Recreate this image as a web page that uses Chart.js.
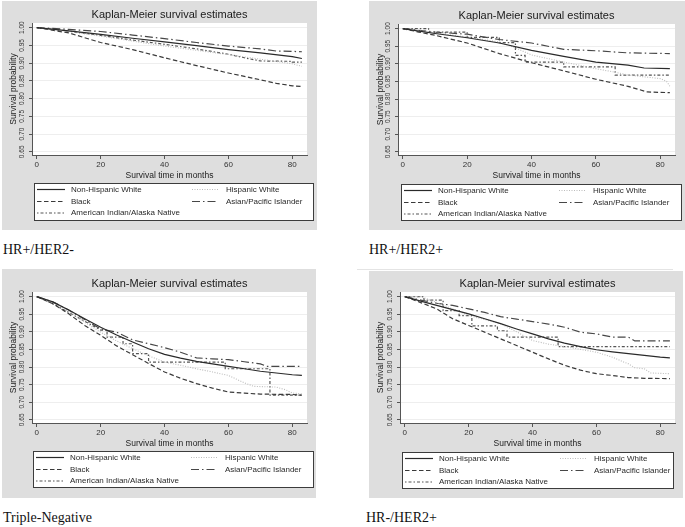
<!DOCTYPE html>
<html><head><meta charset="utf-8">
<script src="https://cdn.jsdelivr.net/npm/chart.js@4.4.0/dist/chart.umd.min.js"></script>
<style>
body{margin:0;background:#fff;width:685px;height:527px;overflow:hidden;position:relative;font-family:"Liberation Sans",Arial,sans-serif}
.panel{position:absolute}
.panel canvas{display:block}
.cap{position:absolute;font-family:"Liberation Serif","Times New Roman",serif;font-size:14px;line-height:16px;color:#111;white-space:nowrap}
.rule{position:absolute;height:1px;background:#e4e4e4}
</style></head><body>
<div class="rule" style="left:357px;top:269px;width:316px"></div>
<div class="panel" style="left:2px;top:1px"><canvas id="c1" width="315" height="229"></canvas></div>
<div class="panel" style="left:369px;top:1px"><canvas id="c2" width="316" height="229"></canvas></div>
<div class="panel" style="left:2px;top:269px"><canvas id="c3" width="314" height="229"></canvas></div>
<div class="panel" style="left:369px;top:271px"><canvas id="c4" width="314" height="227"></canvas></div>
<div class="cap" style="left:3px;top:242px">HR+/HER2-</div>
<div class="cap" style="left:369px;top:242px">HR+/HER2+</div>
<div class="cap" style="left:3px;top:510px">Triple-Negative</div>
<div class="cap" style="left:366px;top:510px">HR-/HER2+</div>
<script>
// ---- labels ----
const groups = ['Non-Hispanic White','Hispanic White','Black','Asian/Pacific Islander','American Indian/Alaska Native'];
const xTicks = [0,20,40,60,80];
const yTicks = [0.65,0.70,0.75,0.80,0.85,0.90,0.95,1.00];
const chartTitle = 'Kaplan-Meier survival estimates';
const xTitle = 'Survival time in months';
const yTitle = 'Survival probability';

// ---- HR+/HER2- : [month, survival] ----
const hrpHer2n_nhw   = [[0,1],[10,.991],[20,.981],[30,.970],[40,.960],[50,.949],[60,.938],[70,.929],[80,.918],[83,.913]];
const hrpHer2n_hisp  = [[0,1],[10,.989],[20,.976],[30,.962],[40,.948],[50,.936],[60,.924],[70,.911],[80,.898],[83,.891]];
const hrpHer2n_black = [[0,1],[10,.985],[20,.958],[30,.938],[40,.915],[50,.893],[60,.872],[70,.853],[75,.843],[80,.836],[83,.834]];
const hrpHer2n_asian = [[0,1],[10,.995],[20,.989],[30,.979],[40,.969],[50,.958],[60,.948],[70,.940],[75,.934],[80,.933],[83,.932]];
const hrpHer2n_aian  = [[0,1],[10,.990],[20,.978],[30,.965],[40,.953],[50,.940],[60,.925],[65,.915],[70,.906],[80,.905],[80,.903],[83,.903]];

// ---- HR+/HER2+ ----
const hrpHer2p_nhw   = [[0,1],[5,.993],[10,.986],[20,.974],[30,.959],[40,.938],[50,.921],[60,.905],[70,.896],[75,.888],[83,.886]];
const hrpHer2p_hisp  = [[0,1],[10,.988],[20,.976],[30,.962],[35,.945],[40,.925],[50,.905],[60,.886],[66,.876],[70,.868],[80,.858],[82,.850],[83,.836]];
const hrpHer2p_black = [[0,1],[5,.990],[10,.981],[20,.959],[30,.929],[40,.903],[50,.880],[60,.856],[70,.836],[76,.820],[83,.818]];
const hrpHer2p_asian = [[0,1],[10,.990],[20,.984],[30,.969],[40,.959],[50,.941],[60,.937],[70,.931],[83,.929]];
const hrpHer2p_aian  = [[0,1],[8,1],[8,.990],[20,.990],[20,.975],[30,.975],[30,.960],[35,.960],[35,.924],[38,.924],[38,.905],[50,.905],[50,.891],[66,.891],[66,.868],[83,.868]];

// ---- Triple-Negative ----
const tn_nhw   = [[0,1],[5,.985],[10,.962],[15,.937],[20,.913],[25,.891],[30,.871],[35,.852],[40,.836],[45,.825],[50,.816],[55,.809],[60,.802],[65,.795],[70,.788],[75,.783],[80,.778],[83,.776]];
const tn_hisp  = [[0,1],[5,.983],[10,.958],[15,.927],[20,.899],[25,.874],[30,.852],[35,.832],[40,.814],[45,.805],[50,.795],[55,.786],[60,.776],[65,.755],[68,.745],[75,.743],[78,.735],[80,.726],[83,.724]];
const tn_black = [[0,1],[5,.980],[10,.951],[15,.918],[20,.890],[25,.860],[30,.835],[35,.810],[40,.786],[45,.768],[50,.753],[55,.740],[60,.729],[65,.726],[70,.723],[80,.722],[83,.720]];
const tn_asian = [[0,1],[5,.985],[10,.962],[15,.935],[20,.908],[25,.899],[30,.877],[35,.866],[40,.855],[45,.842],[50,.826],[55,.823],[60,.821],[65,.815],[70,.809],[72,.802],[83,.802]];
const tn_aian  = [[0,1],[5,.980],[10,.955],[15,.930],[20,.905],[22,.905],[22,.885],[27,.885],[27,.866],[30,.866],[30,.838],[35,.838],[35,.814],[59,.814],[59,.795],[73,.795],[73,.720],[83,.720]];

// ---- HR-/HER2+ ----
const hrnHer2p_nhw   = [[0,1],[5,.987],[10,.975],[15,.963],[20,.951],[25,.937],[30,.923],[35,.908],[40,.894],[45,.880],[50,.868],[55,.858],[60,.849],[65,.843],[70,.838],[75,.833],[80,.828],[83,.826]];
const hrnHer2p_hisp  = [[0,1],[5,1],[10,.983],[15,.965],[20,.946],[25,.935],[30,.923],[35,.900],[40,.875],[45,.865],[50,.858],[55,.850],[60,.842],[65,.828],[68,.816],[70,.809],[72,.798],[75,.795],[77,.783],[83,.781]];
const hrnHer2p_black = [[0,1],[5,.983],[10,.965],[15,.937],[20,.918],[25,.899],[30,.880],[35,.861],[40,.842],[45,.823],[50,.805],[55,.791],[60,.781],[65,.776],[70,.770],[75,.768],[83,.767]];
const hrnHer2p_asian = [[0,1],[5,.990],[10,.981],[15,.975],[20,.965],[25,.955],[30,.943],[35,.936],[40,.929],[45,.922],[50,.913],[55,.899],[60,.894],[65,.885],[70,.885],[72,.874],[83,.874]];
const hrnHer2p_aian  = [[0,1],[6,1],[6,.990],[12,.990],[12,.960],[17,.960],[17,.946],[21,.946],[21,.917],[29,.917],[29,.903],[32,.903],[32,.885],[48,.885],[48,.858],[83,.858]];

// ---- styles (order = groups) ----
const styles = [
  {color:'#2a2a2a', dash:[], width:1.2},
  {color:'#bcbcbc', dash:[1,1.5], width:1.1},
  {color:'#3a3a3a', dash:[4.5,2.5], width:1.2},
  {color:'#474747', dash:[8,3,1.5,3], width:1.2},
  {color:'#555555', dash:[1.5,2,3,2], width:1.2}
];
const FONT = 'Liberation Sans, Arial, sans-serif';

const bgPlugin = {
  id:'bg',
  beforeDraw(chart){
    const {ctx, chartArea:a, width, height} = chart;
    ctx.save();
    ctx.fillStyle = '#dedede';
    ctx.fillRect(0,0,width,height);
    ctx.fillStyle = '#ffffff';
    ctx.fillRect(a.left, a.top, a.right-a.left, a.bottom-a.top);
    ctx.restore();
  }
};
const legendPlugin = {
  id:'kmLegend',
  afterDraw(chart, args, opts){
    const b = opts.box; if(!b) return;
    const ctx = chart.ctx;
    ctx.save();
    ctx.fillStyle = '#fff';
    ctx.fillRect(b.x, b.y, b.w, b.h);
    ctx.strokeStyle = '#3c3c3c'; ctx.lineWidth = 1; ctx.setLineDash([]);
    ctx.strokeRect(b.x+0.5, b.y+0.5, b.w, b.h);
    const rowY = [6, 18, 29.5];
    const sampleX = [[3,31],[158,184]];
    const textX = [37, 192];
    chart.data.datasets.forEach((ds,i)=>{
      const col = i%2, row = Math.floor(i/2);
      const y = b.y + rowY[row] + 0.5;
      ctx.beginPath();
      ctx.setLineDash(ds.borderDash||[]);
      ctx.strokeStyle = ds.borderColor; ctx.lineWidth = ds.borderWidth;
      ctx.moveTo(b.x+sampleX[col][0], y); ctx.lineTo(b.x+sampleX[col][1], y);
      ctx.stroke();
      ctx.setLineDash([]);
      ctx.fillStyle = '#2a2a2a';
      ctx.font = '8px ' + FONT;
      ctx.textBaseline = 'middle'; ctx.textAlign = 'left';
      ctx.fillText(ds.label, b.x+textX[col], y);
    });
    ctx.restore();
  }
};

function makePanel(id, series, g){
  const canvas = document.getElementById(id);
  const W = canvas.width, H = canvas.height;
  const xAxisH = 27;
  new Chart(canvas, {
    type:'line',
    data:{ datasets: series.map((s,i)=>({
      label: groups[i],
      data: s.map(p=>({x:p[0], y:p[1]})),
      borderColor: styles[i].color,
      borderDash: styles[i].dash,
      borderWidth: styles[i].width,
      pointRadius: 0, fill:false, tension:0
    }))},
    options:{
      responsive:false, animation:false, devicePixelRatio:1,
      parsing:false, normalized:true,
      layout:{ padding:{ left:0, top:0, right: W - g.right, bottom: H - g.bottom - xAxisH } },
      plugins:{
        legend:{display:false},
        tooltip:{enabled:false},
        title:{ display:true, text: chartTitle, fullSize:false, color:'#1a1a1a',
          font:{family:FONT, size:11, weight:'normal'},
          padding:{top: g.top - 14.2, bottom:1} },
        kmLegend:{ box: g.legend }
      },
      scales:{
        x:{ type:'linear', min:-1.5, max:84.6,
          afterBuildTicks: s => { s.ticks = xTicks.map(v=>({value:v})); },
          afterFit: s => { s.height = xAxisH; },
          grid:{ display:true, drawOnChartArea:false, drawTicks:true, tickLength:4, tickColor:'#555', tickWidth:1 },
          border:{ display:true, color:'#555', width:1 },
          ticks:{ padding:1, color:'#333', font:{family:FONT, size:8}, maxRotation:0, minRotation:0 },
          title:{ display:true, text:xTitle, color:'#222', font:{family:FONT, size:8.5}, padding:{top:0, bottom:1} }
        },
        y:{ type:'linear', min:0.641, max:1.013,
          afterBuildTicks: s => { s.ticks = yTicks.map(v=>({value:v})); },
          afterFit: s => { s.width = g.left; },
          grid:{ display:true, color:'#eeeeee', drawTicks:true, tickLength:3, tickColor:'#555', tickWidth:1 },
          border:{ display:true, color:'#555', width:1 },
          ticks:{ padding:0, color:'#333', font:{family:FONT, size:6.5}, minRotation:90, maxRotation:90, crossAlign:'center',
            callback: v => Number(v).toFixed(2) },
          title:{ display:true, text:yTitle, color:'#222', font:{family:FONT, size:8.5}, padding:{top:7, bottom:0} }
        }
      }
    },
    plugins:[bgPlugin, legendPlugin]
  });
}

makePanel('c1', [hrpHer2n_nhw, hrpHer2n_hisp, hrpHer2n_black, hrpHer2n_asian, hrpHer2n_aian],
  {left:30, right:305, top:22, bottom:154, legend:{x:32, y:182, w:279, h:37}});
makePanel('c2', [hrpHer2p_nhw, hrpHer2p_hisp, hrpHer2p_black, hrpHer2p_asian, hrpHer2p_aian],
  {left:29, right:306, top:23, bottom:154, legend:{x:32, y:183, w:280, h:36}});
makePanel('c3', [tn_nhw, tn_hisp, tn_black, tn_asian, tn_aian],
  {left:30, right:305, top:23, bottom:154, legend:{x:31, y:182, w:280, h:36}});
makePanel('c4', [hrnHer2p_nhw, hrnHer2p_hisp, hrnHer2p_black, hrnHer2p_asian, hrnHer2p_aian],
  {left:31, right:306, top:21, bottom:152, legend:{x:33, y:181, w:271, h:36}});
</script>
</body></html>
